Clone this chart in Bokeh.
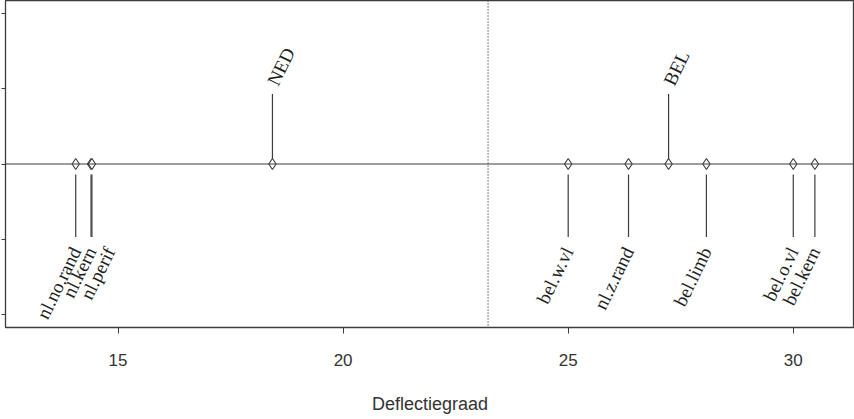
from bokeh.plotting import figure
from bokeh.models import Span, FixedTicker, Range1d, ColumnDataSource
from bokeh.core.properties import value
from bokeh.embed import file_html
from bokeh.resources import INLINE

# ---- data ----
names = ["nl.no.rand", "nl.kern", "nl.perif", "NED", "bel.w.vl",
         "nl.z.rand", "BEL", "bel.limb", "bel.o.vl", "bel.kern"]
deflection = [14.06, 14.40, 14.42, 18.43, 25.00, 26.34, 27.23, 28.07, 30.00, 30.48]
side = [-1, -1, -1, 1, -1, -1, 1, -1, -1, -1]   # -1 label below, +1 label above
cut_point = 23.22
x_ticks = [15, 20, 25, 30]
y_ticks = [-2, -1, 0, 1, 2]
x_label = "Deflectiegraad"

# label layout nudges (pixels) to keep labels apart
label_nudge = [0, 0, 18, 0, 0, 0, 0, 0, 0, 0]

INK = "#3c3c3c"

p = figure(width=854, height=416, output_backend="svg", toolbar_location=None,
           x_range=Range1d(12.5, 31.36), y_range=Range1d(-2.17, 2.17),
           min_border_left=5, min_border_right=0, min_border_top=0, min_border_bottom=0)
p.background_fill_color = "white"
p.border_fill_color = "white"
p.outline_line_color = INK
p.outline_line_width = 1.3
p.xgrid.visible = False
p.ygrid.visible = False

# x axis
p.xaxis.ticker = FixedTicker(ticks=x_ticks)
p.xaxis.axis_label = x_label
p.xaxis.axis_line_color = INK
p.xaxis.major_tick_line_color = INK
p.xaxis.major_tick_out = 6
p.xaxis.major_tick_in = 0
p.xaxis.minor_tick_line_color = None
p.xaxis.major_label_standoff = 20
p.xaxis.major_label_text_font = "Liberation Sans"
p.xaxis.major_label_text_font_size = "17px"
p.xaxis.major_label_text_color = "#333333"
p.xaxis.axis_label_text_font = "Liberation Sans"
p.xaxis.axis_label_text_font_size = "18px"
p.xaxis.axis_label_text_font_style = "normal"
p.xaxis.axis_label_text_color = "#333333"
p.xaxis.axis_label_standoff = 25

# y axis: ticks only
p.yaxis.ticker = FixedTicker(ticks=y_ticks)
p.yaxis.axis_line_color = INK
p.yaxis.major_tick_line_color = INK
p.yaxis.major_tick_out = 4
p.yaxis.major_tick_in = 0
p.yaxis.minor_tick_line_color = None
p.yaxis.major_label_overrides = {t: "" for t in y_ticks}
p.yaxis.major_label_standoff = 0

# reference lines
p.add_layout(Span(location=0, dimension="width", line_color=INK, line_width=1.2))
p.add_layout(Span(location=cut_point, dimension="height", line_color="#444444",
                  line_width=1.3, line_dash="1 2"))

# connector segments
seg_x, seg_y0, seg_y1 = [], [], []
for x, s in zip(deflection, side):
    seg_x.append(x)
    if s > 0:
        seg_y0.append(0.0); seg_y1.append(0.93)
    else:
        seg_y0.append(-0.14); seg_y1.append(-0.97)
p.segment(x0=seg_x, y0=seg_y0, x1=seg_x, y1=seg_y1, line_color=INK, line_width=1.2)

# points
p.scatter(x=deflection, y=[0] * len(deflection), marker="diamond", size=11,
          fill_color="white", line_color=INK, line_width=1.1)

# labels
below = ColumnDataSource(dict(
    x=[x for x, s in zip(deflection, side) if s < 0],
    y=[-1.12 for s in side if s < 0],
    t=[n for n, s in zip(names, side) if s < 0],
    dx=[d for d, s in zip(label_nudge, side) if s < 0]))
above = ColumnDataSource(dict(
    x=[x for x, s in zip(deflection, side) if s > 0],
    y=[1.06 for s in side if s > 0],
    t=[n for n, s in zip(names, side) if s > 0],
    dx=[d for d, s in zip(label_nudge, side) if s > 0]))

common = dict(angle=64, angle_units="deg", text_font=value("Liberation Serif"),
              text_font_style="normal", text_font_size="19px", text_color="#1e1e1e",
              text_baseline="middle")
p.text(x="x", y="y", text="t", x_offset="dx", source=below, text_align="right", **common)
p.text(x="x", y="y", text="t", x_offset="dx", source=above, text_align="left", **common)

open("out.html", "w").write(file_html(p, INLINE))
